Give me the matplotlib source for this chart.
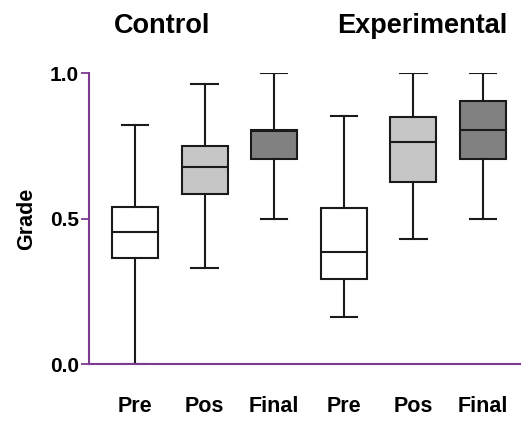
import numpy as np
import matplotlib
matplotlib.use('Agg')
import matplotlib.pyplot as plt

plt.rcParams['font.family'] = ['Liberation Sans', 'DejaVu Sans']
plt.rcParams['font.weight'] = 'bold'

labels = ['Pre', 'Pos', 'Final', 'Pre', 'Pos', 'Final']
whislo = [0.00, 0.33, 0.50, 0.16, 0.43, 0.50]
q1 = [0.363, 0.583, 0.704, 0.293, 0.624, 0.703]
med = [0.452, 0.676, 0.800, 0.386, 0.762, 0.803]
q3 = [0.538, 0.749, 0.803, 0.537, 0.849, 0.903]
whishi = [0.82, 0.962, 1.00, 0.853, 1.00, 1.00]
fills = ['white', '#c6c6c6', '#818181', 'white', '#c6c6c6', '#818181']
groups = ['Control', 'Experimental']

purple = '#7d3a91'

stats = []
for i in range(len(labels)):
    stats.append({'label': labels[i], 'whislo': whislo[i], 'q1': q1[i],
                  'med': med[i], 'q3': q3[i], 'whishi': whishi[i], 'fliers': []})

fig = plt.figure(figsize=(5.21, 4.26), dpi=100)
ax = fig.add_axes([0.171, 0.1455, 0.829, 0.6831])

lw = 1.5
bp = ax.bxp(stats, positions=np.arange(1, 7), widths=0.66, patch_artist=True,
            showfliers=False, capwidths=0.38,
            boxprops=dict(linewidth=lw, edgecolor='#1a1a1a'),
            medianprops=dict(linewidth=lw, color='#1a1a1a'),
            whiskerprops=dict(linewidth=lw, color='#1a1a1a'),
            capprops=dict(linewidth=lw, color='#1a1a1a'))
for patch, c in zip(bp['boxes'], fills):
    patch.set_facecolor(c)

ax.set_xlim(0.339, 6.546)
ax.set_ylim(0, 1.0)
ax.set_yticks([0.0, 0.5, 1.0])
ax.set_yticklabels(['0.0', '0.5', '1.0'], fontsize=15, fontweight='bold')
ax.set_xticks(np.arange(1, 7))
ax.set_xticklabels(labels, fontsize=15.5, fontweight='bold')
ax.tick_params(axis='x', length=0, pad=23)
ax.tick_params(axis='y', length=6, width=1.3, color=purple, direction='out', pad=1.5)

for s in ['top', 'right']:
    ax.spines[s].set_visible(False)
for s in ['left', 'bottom']:
    ax.spines[s].set_color(purple)
    ax.spines[s].set_linewidth(1.5)
ax.spines['left'].set_bounds(0, 1.0)

ax.set_ylabel('Grade', fontsize=15.5, fontweight='bold', labelpad=9)

fig.text(162 / 521, 1 - 26 / 426, groups[0], fontsize=19.5, fontweight='bold',
         ha='center', va='center')
fig.text(422 / 521, 1 - 26 / 426, groups[1], fontsize=19.5, fontweight='bold',
         ha='center', va='center')

fig.savefig('out.png', dpi=100)
